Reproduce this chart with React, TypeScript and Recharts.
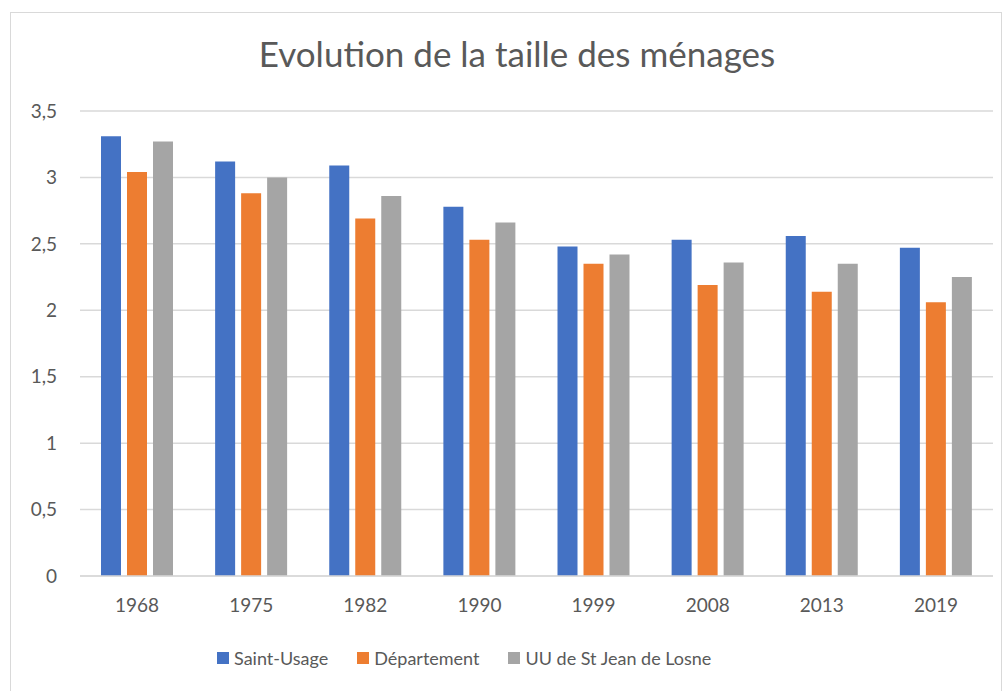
import { BarChart, Bar, XAxis, YAxis, CartesianGrid, Legend } from 'recharts';

const YEARS = ['1968', '1975', '1982', '1990', '1999', '2008', '2013', '2019'];
const SAINT_USAGE = [3.31, 3.12, 3.09, 2.78, 2.48, 2.53, 2.56, 2.47];
const DEPARTEMENT = [3.04, 2.88, 2.69, 2.53, 2.35, 2.19, 2.14, 2.06];
const UU_LOSNE = [3.27, 3.0, 2.86, 2.66, 2.42, 2.36, 2.35, 2.25];
const Y_TICKS = [0, 0.5, 1, 1.5, 2, 2.5, 3, 3.5];

const SERIES = [
    { key: 'saintUsage', name: 'Saint-Usage', color: '#4472c4' },
    { key: 'departement', name: 'Département', color: '#ed7d31' },
    { key: 'uu', name: 'UU de St Jean de Losne', color: '#a5a5a5' },
];

const data = YEARS.map((year, i) => ({
    year,
    saintUsage: SAINT_USAGE[i],
    departement: DEPARTEMENT[i],
    uu: UU_LOSNE[i],
}));

const FONT = 'Lato, "Open Sans", sans-serif';

// legend drawn as a plain row of squares + labels, like Excel
const renderLegend = () => (
    <div style={{ display: 'flex', alignItems: 'center', fontFamily: FONT, fontSize: 18, color: '#595959' }}>
        {SERIES.map((s) => (
            <div key={s.key} style={{ display: 'flex', alignItems: 'center', marginRight: 29 }}>
                <span style={{ width: 12, height: 12, background: s.color, display: 'inline-block', marginRight: 5 }} />
                <span>{s.name}</span>
            </div>
        ))}
    </div>
);

export default function App() {
    return (
        <div style={{ position: 'fixed', left: 0, top: 0, width: 1008, height: 691, background: '#fff', overflow: 'hidden' }}>
            <div style={{ position: 'absolute', left: 10, top: 12, width: 990, height: 700, border: '1px solid #d9d9d9' }} />
            <div
                style={{
                    position: 'absolute',
                    left: 0,
                    top: 36,
                    width: 1034,
                    textAlign: 'center',
                    fontFamily: FONT,
                    fontSize: 35,
                    lineHeight: 1,
                    color: '#595959',
                }}
            >
                Evolution de la taille des ménages
            </div>
            <div style={{ position: 'absolute', left: 0, top: 0 }}>
                <BarChart
                    width={1008}
                    height={691}
                    data={data}
                    margin={{ top: 111, right: 15, left: 0, bottom: 85 }}
                    barSize={20}
                    barGap={6}
                >
                    <CartesianGrid vertical={false} stroke="#d9d9d9" strokeWidth={1.5} />
                    <XAxis
                        dataKey="year"
                        height={30}
                        axisLine={{ stroke: '#d9d9d9', strokeWidth: 1.5 }}
                        tickLine={false}
                        tickSize={0}
                        tickMargin={23}
                        tick={{ fill: '#595959', fontSize: 19, fontFamily: FONT }}
                    />
                    <YAxis
                        width={80}
                        domain={[0, 3.5]}
                        ticks={Y_TICKS}
                        axisLine={false}
                        tickLine={false}
                        tickSize={0}
                        tickMargin={23}
                        tick={{ fill: '#595959', fontSize: 19, fontFamily: FONT }}
                        tickFormatter={(v: number) => String(v).replace('.', ',')}
                    />
                    <Legend
                        content={renderLegend}
                        wrapperStyle={{ position: 'absolute', left: 217, top: 647, width: 700, height: 0, overflow: 'visible' }}
                    />
                    {SERIES.map((s) => (
                        <Bar key={s.key} dataKey={s.key} name={s.name} fill={s.color} isAnimationActive={false} />
                    ))}
                </BarChart>
            </div>
        </div>
    );
}
